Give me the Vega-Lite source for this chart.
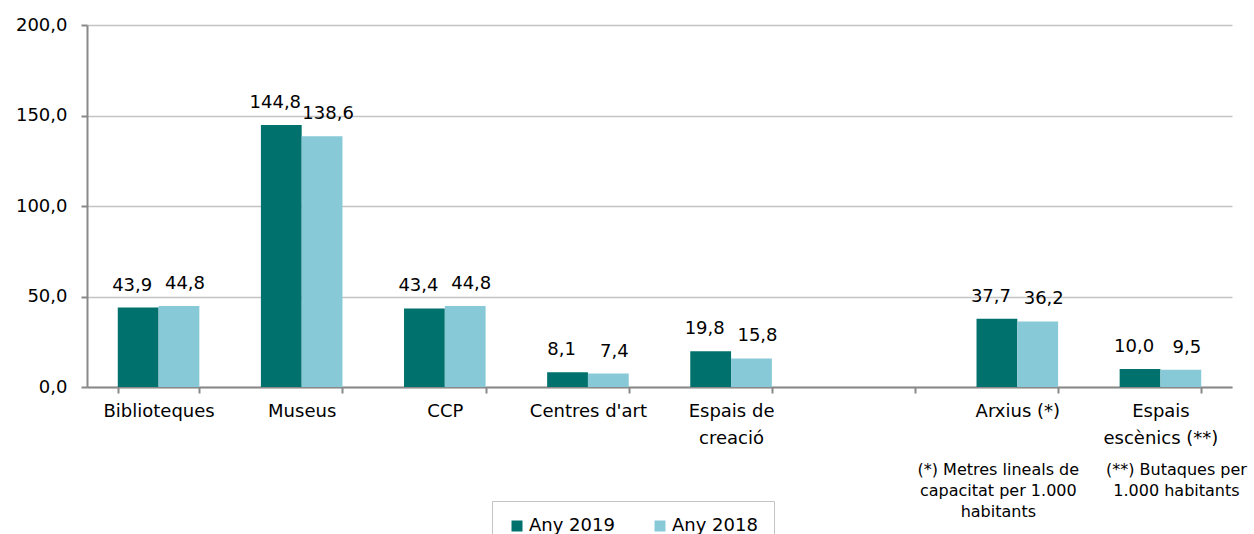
{
  "$schema": "https://vega.github.io/schema/vega-lite/v6.json",
  "autosize": {"type": "none"},
  "width": 1145,
  "height": 362,
  "padding": {"left": 87, "top": 25, "right": 22, "bottom": 147},
  "background": "#ffffff",
  "config": {
    "view": {"stroke": null},
    "locale": {"number": {"decimal": ",", "thousands": ".", "grouping": [3], "currency": ["", " €"]}},
    "font": "DejaVu Sans",
    "axis": {"labelFont": "DejaVu Sans", "labelFontSize": 18, "labelColor": "#000000", "title": null},
    "text": {"font": "DejaVu Sans", "fill": "#000000"}
  },
  "datasets": {
    "bars": [
      {"cat": "Biblioteques", "year": "Any 2019", "value": 43.9},
      {"cat": "Biblioteques", "year": "Any 2018", "value": 44.8},
      {"cat": "Museus", "year": "Any 2019", "value": 144.8},
      {"cat": "Museus", "year": "Any 2018", "value": 138.6},
      {"cat": "CCP", "year": "Any 2019", "value": 43.4},
      {"cat": "CCP", "year": "Any 2018", "value": 44.8},
      {"cat": "Centres d'art", "year": "Any 2019", "value": 8.1},
      {"cat": "Centres d'art", "year": "Any 2018", "value": 7.4},
      {"cat": "Espais de creació", "year": "Any 2019", "value": 19.8},
      {"cat": "Espais de creació", "year": "Any 2018", "value": 15.8},
      {"cat": "Arxius (*)", "year": "Any 2019", "value": 37.7},
      {"cat": "Arxius (*)", "year": "Any 2018", "value": 36.2},
      {"cat": "Espais escènics (**)", "year": "Any 2019", "value": 10.0},
      {"cat": "Espais escènics (**)", "year": "Any 2018", "value": 9.5}
    ],
    "notes": [
      {"cat": "Arxius (*)", "note": "(*) Metres lineals de\ncapacitat per 1.000\nhabitants"},
      {"cat": "Espais escènics (**)", "note": "(**) Butaques per\n1.000 habitants"}
    ]
  },
  "layer": [
    {
      "data": {"name": "bars"},
      "mark": {"type": "bar"},
      "encoding": {
        "x": {
          "field": "cat",
          "type": "nominal",
          "sort": ["Biblioteques", "Museus", "CCP", "Centres d'art", "Espais de creació", " ", "Arxius (*)", "Espais escènics (**)"],
          "scale": {
            "domain": ["Biblioteques", "Museus", "CCP", "Centres d'art", "Espais de creació", " ", "Arxius (*)", "Espais escènics (**)"],
            "paddingInner": 0.43,
            "paddingOuter": 0.215
          },
          "axis": {
            "title": null,
            "labelAngle": 0,
            "labelExpr": "datum.value == 'Espais de creació' ? ['Espais de', 'creació'] : datum.value == 'Espais escènics (**)' ? ['Espais', 'escènics (**)'] : datum.value == ' ' ? '' : datum.value",
            "tickBand": "extent",
            "ticks": true,
            "tickSize": 6,
            "tickColor": "#898989",
            "tickWidth": 2,
            "domainColor": "#898989",
            "domainWidth": 2,
            "labelPadding": 9,
            "labelLineHeight": 27,
            "labelLimit": 300,
            "grid": false
          }
        },
        "y": {
          "field": "value",
          "type": "quantitative",
          "scale": {"domain": [0, 200], "nice": false},
          "axis": {
            "title": null,
            "values": [0, 50, 100, 150, 200],
            "format": ".1f",
            "grid": true,
            "gridColor": "#c4c4c4",
            "gridWidth": 1.5,
            "domainColor": "#898989",
            "domainWidth": 2,
            "tickColor": "#898989",
            "tickWidth": 2,
            "tickSize": 6,
            "labelPadding": 14
          }
        },
        "xOffset": {"field": "year", "type": "nominal", "sort": ["Any 2019", "Any 2018"], "scale": {"domain": ["Any 2019", "Any 2018"], "paddingInner": 0}},
        "color": {
          "field": "year",
          "type": "nominal",
          "sort": ["Any 2019", "Any 2018"],
          "scale": {"domain": ["Any 2019", "Any 2018"], "range": ["#00716D", "#88C9D7"]},
          "legend": {
            "title": null,
            "orient": "none",
            "legendX": 405,
            "legendY": 476,
            "direction": "horizontal",
            "symbolType": "square",
            "symbolSize": 121,
            "symbolStrokeWidth": 0,
            "labelFont": "DejaVu Sans",
            "labelFontSize": 18,
            "labelColor": "#000000",
            "labelOffset": 3,
            "strokeColor": "#c4c4c4",
            "padding": 16,
            "columnPadding": 36
          }
        }
      }
    },
    {
      "data": {"name": "bars"},
      "transform": [{"filter": "datum.year == 'Any 2019'"}],
      "mark": {"type": "text", "baseline": "alphabetic", "dy": -17, "dx": -6, "fontSize": 18},
      "encoding": {
        "x": {"field": "cat", "type": "nominal"},
        "y": {"field": "value", "type": "quantitative"},
        "xOffset": {"field": "year", "type": "nominal"},
        "text": {"field": "value", "type": "quantitative", "format": ".1f"}
      }
    },
    {
      "data": {"name": "bars"},
      "transform": [{"filter": "datum.year == 'Any 2018'"}],
      "mark": {"type": "text", "baseline": "alphabetic", "dy": -17, "dx": 6, "fontSize": 18},
      "encoding": {
        "x": {"field": "cat", "type": "nominal"},
        "y": {"field": "value", "type": "quantitative"},
        "xOffset": {"field": "year", "type": "nominal"},
        "text": {"field": "value", "type": "quantitative", "format": ".1f"}
      }
    },
    {
      "data": {"name": "notes"},
      "transform": [{"filter": "datum.cat == 'Arxius (*)'"}],
      "mark": {"type": "text", "baseline": "top", "align": "center", "dx": -19, "dy": 75, "fontSize": 16, "lineHeight": 21, "lineBreak": "\n"},
      "encoding": {
        "x": {"field": "cat", "type": "nominal"},
        "y": {"datum": 0},
        "text": {"field": "note", "type": "nominal"}
      }
    },
    {
      "data": {"name": "notes"},
      "transform": [{"filter": "datum.cat == 'Espais escènics (**)'"}],
      "mark": {"type": "text", "baseline": "top", "align": "center", "dx": 16, "dy": 75, "fontSize": 16, "lineHeight": 21, "lineBreak": "\n"},
      "encoding": {
        "x": {"field": "cat", "type": "nominal"},
        "y": {"datum": 0},
        "text": {"field": "note", "type": "nominal"}
      }
    }
  ]
}
